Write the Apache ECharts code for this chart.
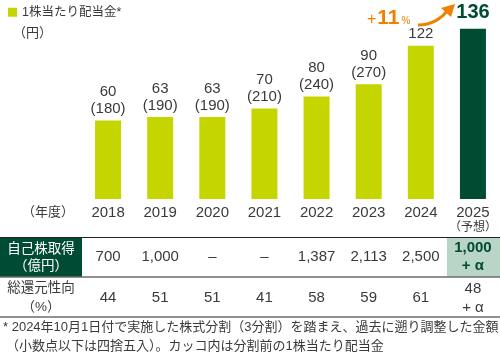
<!DOCTYPE html>
<html><head><meta charset="utf-8">
<script src="https://cdn.jsdelivr.net/npm/echarts@6/dist/echarts.min.js"></script>
<style>html,body{margin:0;padding:0;background:#fff}#c{width:500px;height:360px}</style>
</head><body><div id="c"></div>
<script>
const years = ['2018','2019','2020','2021','2022','2023','2024','2025'];
const dividends = [60,63,63,70,80,90,122,136];
const preSplit = [180,190,190,210,240,270,null,null];
const buyback = ['700','1,000','–','–','1,387','2,113','2,500','1,000\n+ α'];
const payout = ['44','51','51','41','58','59','61','48\n+ α'];
const seriesName = '1株当たり配当金*';
const growthText = ['+','11','%'];
const footnote = ['* 2024年10月1日付で実施した株式分割（3分割）を踏まえ、過去に遡り調整した金額',
                  '（小数点以下は四捨五入）。カッコ内は分割前の1株当たり配当金'];

const FONT = "'Liberation Sans','Noto Sans CJK JP',sans-serif";
const TXT = '#3a3a3a';
const LIME = '#c5d500';
const DARK = '#004b32';
const ORANGE = '#ee8200';

const chart = echarts.init(document.getElementById('c'), null, {renderer:'canvas'});

const barData = dividends.map((v,i) => i === dividends.length-1 ? {
  value: v, itemStyle:{color: DARK},
  label:{fontSize:20, fontWeight:'bold', color: DARK, distance:5, lineHeight:22}
} : v);

chart.setOption({
  animation:false,
  textStyle:{fontFamily:FONT},
  legend:{left:3, top:1, itemWidth:9, itemHeight:9, icon:'rect',
    textStyle:{fontSize:12.5, color:TXT, fontFamily:FONT}, data:[seriesName]},
  grid:{left:82, right:1, top:24, bottom:161},
  yAxis:{type:'value', min:-5, max:140, startValue:-5, show:false},
  xAxis:[
    {type:'category', data:years, axisLine:{show:false}, axisTick:{show:false},
      axisLabel:{interval:0, margin:5, verticalAlign:'top', fontSize:15, lineHeight:17, color:TXT, fontFamily:FONT,
        formatter:(v,i)=> i===years.length-1 ? v+'\n{s|（予想）}' : v,
        rich:{s:{fontSize:12, lineHeight:14, color:TXT, fontFamily:FONT}}}},
    {type:'category', data:buyback, position:'bottom', offset:58, axisLine:{show:false}, axisTick:{show:false},
      axisLabel:{interval:0, margin:0, verticalAlign:'middle', fontSize:15, lineHeight:18, color:TXT, fontFamily:FONT,
        formatter:(v,i)=> i===buyback.length-1 ? v.split('\n').map(s=>'{b|'+s+'}').join('\n') : v,
        rich:{b:{fontSize:15, lineHeight:18, fontWeight:'bold', color:DARK, fontFamily:FONT}}}},
    {type:'category', data:payout, position:'bottom', offset:99, axisLine:{show:false}, axisTick:{show:false},
      axisLabel:{interval:0, margin:0, verticalAlign:'middle', fontSize:15, lineHeight:19, color:TXT, fontFamily:FONT}}
  ],
  series:[{
    name:seriesName, type:'bar', xAxisIndex:0, barWidth:26, itemStyle:{color:LIME},
    label:{show:true, position:'top', distance:3, fontSize:15, lineHeight:17, color:TXT, fontFamily:FONT,
      formatter:p => preSplit[p.dataIndex]!=null ? p.value+'\n('+preSplit[p.dataIndex]+')' : String(p.value)},
    data:barData
  }]
});

// table decorations positioned from the category axis
const cx = i => chart.convertToPixel({xAxisIndex:0}, years[i]);
const lastX = cx(years.length-1);
const line = y => ({type:'line', shape:{x1:0, y1:y, x2:500, y2:y}, style:{stroke:'#222', lineWidth:1}});
chart.setOption({graphic:[
  {type:'text', x:13, y:33, style:{text:'（円）', font:'13px '+FONT, fill:TXT, verticalAlign:'middle'}},
  {type:'text', x:74, y:212, style:{text:'（年度）', font:'13px '+FONT, fill:TXT, align:'right', verticalAlign:'middle'}},
  {type:'rect', z:-1, shape:{x:0, y:237.5, width:82, height:39}, style:{fill:'#004b34'}},
  {type:'rect', z:-1, shape:{x:lastX-26, y:237.5, width:500-(lastX-26), height:39}, style:{fill:'#b9d5c8'}},
  line(237.5), line(277), line(317),
  {type:'text', x:41, y:258, style:{text:'自己株取得\n（億円）', font:'13.5px '+FONT, lineHeight:17, fill:'#fff', align:'center', verticalAlign:'middle'}},
  {type:'text', x:41, y:298, style:{text:'総還元性向\n（%）', font:'13.5px '+FONT, lineHeight:19, fill:TXT, align:'center', verticalAlign:'middle'}},
  {type:'text', x:3, y:327.5, style:{text:footnote[0], font:'13px '+FONT, fill:TXT, verticalAlign:'middle'}},
  {type:'text', x:6, y:346.5, style:{text:footnote[1], font:'13px '+FONT, fill:TXT, verticalAlign:'middle'}},
  {type:'text', x:367, y:18, style:{text:'{p|'+growthText[0]+'}{n|'+growthText[1]+'}{c|'+growthText[2]+'}', verticalAlign:'middle',
     rich:{p:{fontSize:16, fill:ORANGE, fontFamily:FONT, padding:[3,1,0,0]}, n:{fontSize:21, fontWeight:'bold', fill:ORANGE, fontFamily:FONT},
           c:{fontSize:10, fill:ORANGE, fontFamily:FONT, padding:[7,0,0,2]}}}},
  {type:'bezierCurve', shape:{x1:418, y1:25, x2:447, y2:11, cpx1:432, cpy1:25, cpx2:442, cpy2:18}, style:{stroke:ORANGE, lineWidth:3, fill:null}},
  {type:'polygon', shape:{points:[[455,4],[441,8],[451,17]]}, style:{fill:ORANGE}}
]});
</script></body></html>
